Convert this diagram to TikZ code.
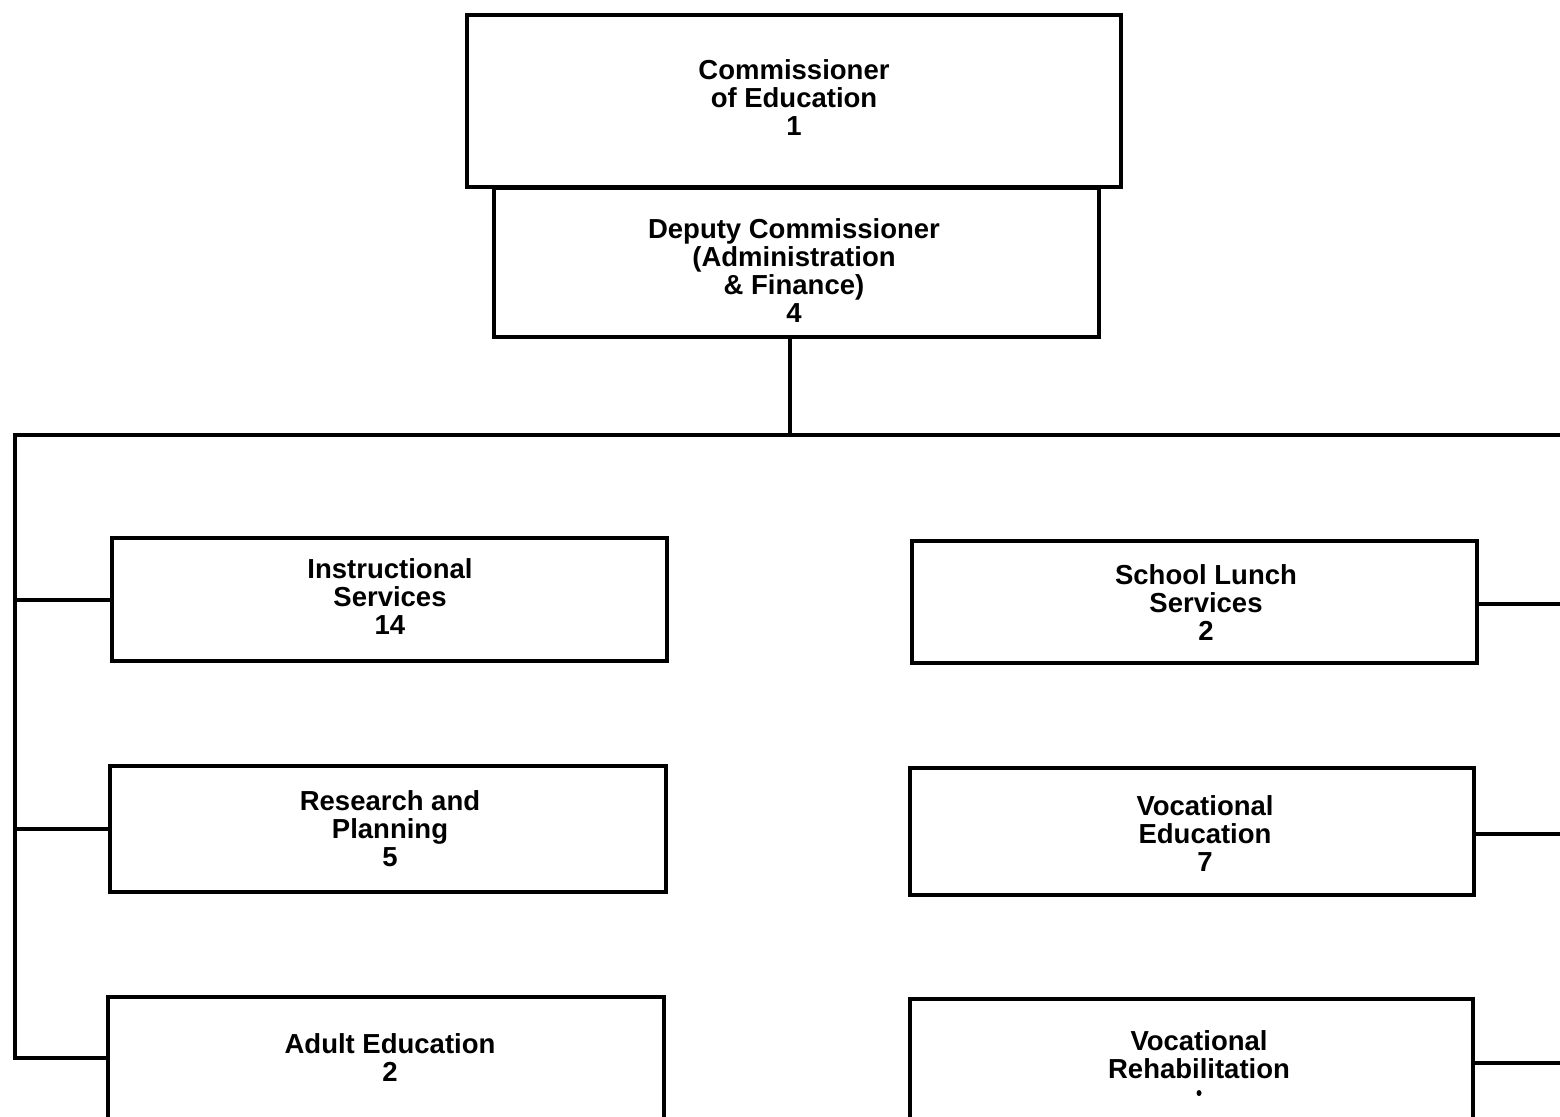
\documentclass[tikz,border=0pt]{standalone}
\usepackage{fontspec}
\setmainfont{Liberation Sans}
\pgfdeclarelayer{wires}
\pgfsetlayers{wires,main}
\begin{document}
\begin{tikzpicture}[x=1pt,y=-1pt,
  unit/.style={draw=black, line width=3.4pt, rectangle, inner sep=0pt, outer sep=0pt, fill=white},
  lbl/.style={align=center, inner sep=0pt, font=\fontsize{27.5}{28}\selectfont\bfseries},
  link/.style={draw=black, line width=4.5pt, line cap=rect}]
\useasboundingbox (0,0) rectangle (1560,1116);
\clip (0,0) rectangle (1560,1116);

% rails and bus
\coordinate (hub) at (790,435);
\coordinate (lrail) at (15,435);
\coordinate (rrail) at (1600,435);
\coordinate (lI) at (15,600);
\coordinate (lR) at (15,829);
\coordinate (lA) at (15,1058);
\coordinate (rS) at (1600,604);
\coordinate (rV) at (1600,834);
\coordinate (rH) at (1600,1063);

% top offices
\node[unit, minimum width=605, minimum height=149] (dep) at (796.5,262.5) {};
\node[unit, minimum width=654, minimum height=172] (com) at (794,101) {};
\node[lbl] (comt) at (794,98) {Commissioner\\of Education\\1};
\node[lbl] (dept) at (794,270.5) {Deputy Commissioner\\(Administration\\\& Finance)\\4};

% divisions, left column
\node[unit, minimum width=555, minimum height=123] (ins) at (389.5,599.5) {};
\node[unit, minimum width=556, minimum height=126] (res) at (388,829) {};
\node[unit, minimum width=556, minimum height=140] (adu) at (386,1067) {};
\node[lbl] (inst) at (390,597) {Instructional\\Services\\14};
\node[lbl] (rest) at (390,829) {Research and\\Planning\\5};
\node[lbl] (adut) at (390,1058) {Adult Education\\2};

% divisions, right column
\node[unit, minimum width=565, minimum height=122] (sch) at (1194.5,602) {};
\node[unit, minimum width=564, minimum height=127] (voc) at (1192,831.5) {};
\node[unit, minimum width=563, minimum height=140] (reh) at (1191.5,1069) {};
\node[lbl] (scht) at (1206,603) {School Lunch\\Services\\2};
\node[lbl] (voct) at (1205,834) {Vocational\\Education\\7};
\node[lbl] (reht) at (1199,1055) {Vocational\\Rehabilitation};
\fill (1199,1093) ellipse (2.5 and 3);

% connectors, kept under the boxes
\begin{pgfonlayer}{wires}
\draw[link] (dep.south -| hub) -- (hub);
\draw[link] (lrail) -- (rrail);
\draw[link] (lrail) -- (lA);
\draw[link] (lI) -- (lI -| ins.west);
\draw[link] (lR) -- (lR -| res.west);
\draw[link] (lA) -- (lA -| adu.west);
\draw[link] (rS -| sch.east) -- (rS);
\draw[link] (rV -| voc.east) -- (rV);
\draw[link] (rH -| reh.east) -- (rH);
\end{pgfonlayer}
\end{tikzpicture}
\end{document}
